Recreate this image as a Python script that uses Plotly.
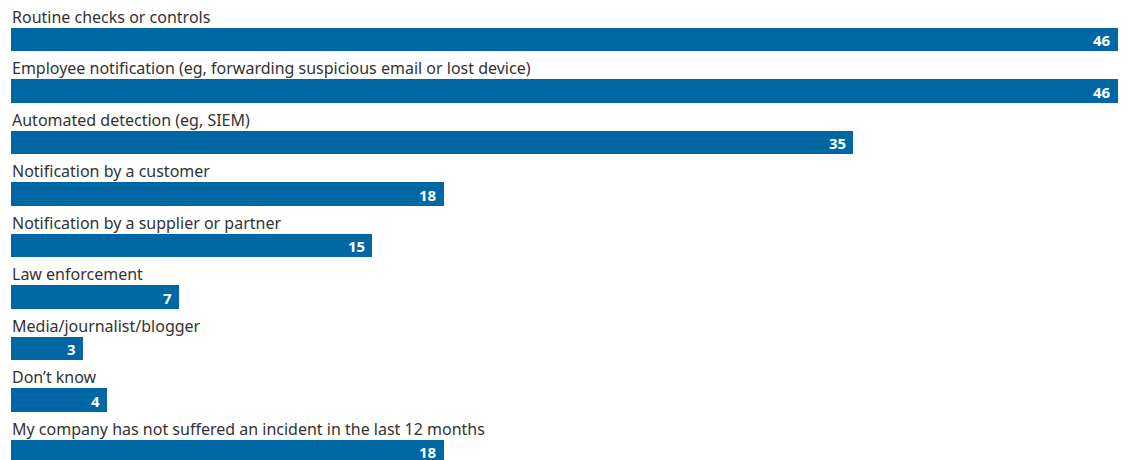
import plotly.graph_objects as go

categories = [
    "Routine checks or controls",
    "Employee notification (eg, forwarding suspicious email or lost device)",
    "Automated detection (eg, SIEM)",
    "Notification by a customer",
    "Notification by a supplier or partner",
    "Law enforcement",
    "Media/journalist/blogger",
    "Don\u2019t know",
    "My company has not suffered an incident in the last 12 months",
]
values = [46, 46, 35, 18, 15, 7, 3, 4, 18]

BAR = "#0067a5"
TEXT = "#333333"
FONT = "Noto Sans"

rows = list(range(len(categories)))

fig = go.Figure(
    go.Bar(
        x=values,
        y=rows,
        orientation="h",
        width=0.447,
        marker=dict(color=BAR, line=dict(width=0)),
        hoverinfo="skip",
    )
)

annotations = []
for i, (cat, val) in enumerate(zip(categories, values)):
    # category name sits just above its bar
    annotations.append(dict(
        x=0, y=i, xref="x", yref="y", text=cat, showarrow=False,
        xanchor="left", yanchor="middle", yshift=23, xshift=-1,
        font=dict(family=FONT, size=16, color=TEXT),
    ))
    # value printed in white at the right end of the bar
    annotations.append(dict(
        x=val, y=i, xref="x", yref="y", text=f"<b>{val}</b>", showarrow=False,
        xanchor="right", yanchor="middle", xshift=-5, height=15,
        valign="middle",
        font=dict(family=FONT, size=15, color="white"),
    ))

fig.update_layout(
    width=1130, height=460,
    margin=dict(l=11, r=12, t=0, b=0),
    paper_bgcolor="white", plot_bgcolor="white",
    showlegend=False,
    bargap=0,
    xaxis=dict(range=[0, 46], visible=False, fixedrange=True),
    yaxis=dict(range=[8.165, -0.767], visible=False, fixedrange=True),
    annotations=annotations,
)

fig.write_html("out.html")
